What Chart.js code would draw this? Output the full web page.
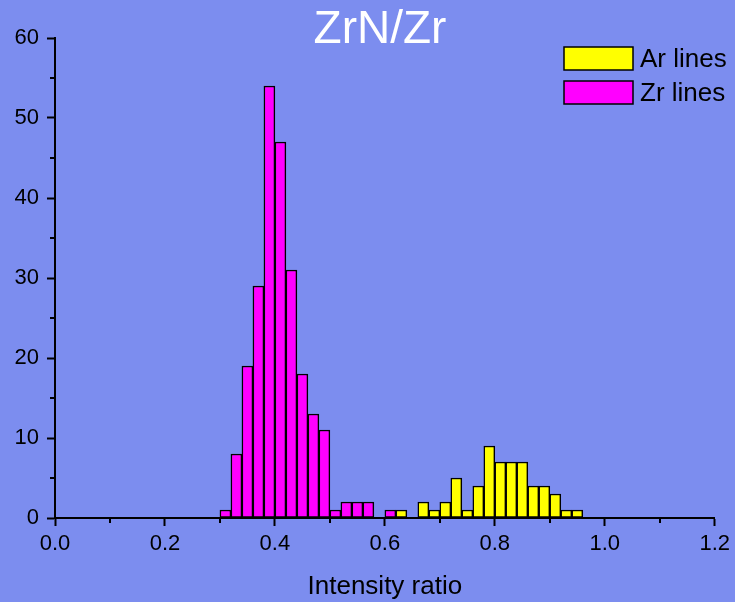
<!DOCTYPE html>
<html>
<head>
<meta charset="utf-8">
<script src="https://cdn.jsdelivr.net/npm/chart.js@4.4.1/dist/chart.umd.min.js"></script>
<style>
  html, body { margin: 0; padding: 0; background: #7c8def; }
  #wrap { width: 735px; height: 602px; position: relative; }
</style>
</head>
<body>
<div id="wrap"><canvas id="container"></canvas></div>
<script>
// bin centres (bin width 0.02) and counts
var arCenters = [0.63, 0.67, 0.69, 0.71, 0.73, 0.75, 0.77, 0.79, 0.81, 0.83, 0.85, 0.87, 0.89, 0.91, 0.93, 0.95];
var arCounts  = [1, 2, 1, 2, 5, 1, 4, 9, 7, 7, 7, 4, 4, 3, 1, 1];

var zrCenters = [0.31, 0.33, 0.35, 0.37, 0.39, 0.41, 0.43, 0.45, 0.47, 0.49, 0.51, 0.53, 0.55, 0.57, 0.61];
var zrCounts  = [1, 8, 19, 29, 54, 47, 31, 18, 13, 11, 1, 2, 2, 2, 1];

var seriesNames = ['Ar lines', 'Zr lines'];
var chartTitle = 'ZrN/Zr';
var xTitle = 'Intensity ratio';

var FONT = '"Liberation Sans", Arial, sans-serif';

function toPoints(xs, ys) {
    var pts = [];
    for (var i = 0; i < xs.length; i++) {
        pts.push({x: xs[i], y: ys[i]});
    }
    return pts;
}

// title, legend and the minor ticks are drawn by hand
var decorations = {
    id: 'decorations',
    afterDraw: function(chart) {
        var ctx = chart.ctx;
        var xs = chart.scales.x, ys = chart.scales.y;
        ctx.save();

        // minor ticks
        ctx.strokeStyle = '#000';
        ctx.lineWidth = 2;
        ctx.beginPath();
        for (var v = 5; v < 60; v += 10) {
            var py = Math.round(ys.getPixelForValue(v));
            ctx.moveTo(xs.left - 5, py);
            ctx.lineTo(xs.left, py);
        }
        for (var k = 1; k < 12; k += 2) {
            var px = Math.round(xs.getPixelForValue(k / 10));
            ctx.moveTo(px, ys.bottom);
            ctx.lineTo(px, ys.bottom + 5);
        }
        ctx.stroke();

        // title
        ctx.fillStyle = '#fff';
        ctx.font = '46px ' + FONT;
        ctx.textAlign = 'center';
        ctx.textBaseline = 'middle';
        ctx.fillText(chartTitle, 380, 30);

        // legend
        ctx.font = '26px ' + FONT;
        ctx.textAlign = 'left';
        chart.data.datasets.forEach(function(ds, i) {
            var top = 47 + i * 34;
            ctx.fillStyle = ds.backgroundColor;
            ctx.fillRect(564, top, 69, 23);
            ctx.lineWidth = 1.5;
            ctx.strokeStyle = '#000';
            ctx.strokeRect(564, top, 69, 23);
            ctx.fillStyle = '#000';
            ctx.fillText(ds.label, 640, top + 13);
        });
        ctx.restore();
    }
};

var chart = new Chart(document.getElementById('container'), {
    type: 'bar',
    data: {
        datasets: [
            {
                label: seriesNames[0],
                data: toPoints(arCenters, arCounts),
                backgroundColor: '#ffff00',
                borderColor: '#000',
                borderWidth: 1.5,
                borderSkipped: false
            },
            {
                label: seriesNames[1],
                data: toPoints(zrCenters, zrCounts),
                backgroundColor: '#ff00ff',
                borderColor: '#000',
                borderWidth: 1.5,
                borderSkipped: false
            }
        ]
    },
    options: {
        responsive: true,
        maintainAspectRatio: false,
        animation: false,
        grouped: false,
        barPercentage: 1,
        categoryPercentage: 1,
        layout: {
            padding: {top: 38, right: 19, left: 0, bottom: 0}
        },
        plugins: {
            legend: {display: false},
            title: {display: false},
            tooltip: {enabled: false}
        },
        scales: {
            x: {
                type: 'linear',
                min: 0,
                max: 1.2,
                offset: false,
                grid: {
                    offset: false,
                    drawOnChartArea: false,
                    tickLength: 8,
                    tickWidth: 2,
                    tickColor: '#000'
                },
                border: {color: '#000', width: 2},
                ticks: {
                    stepSize: 0.2,
                    color: '#000',
                    padding: 5,
                    maxRotation: 0,
                    font: {family: FONT, size: 22},
                    callback: function(v) { return v.toFixed(1); }
                },
                title: {
                    display: true,
                    text: xTitle,
                    color: '#000',
                    font: {family: FONT, size: 26},
                    padding: {top: 0, bottom: 0}
                },
                afterFit: function(scale) { scale.height = 84; }
            },
            y: {
                min: 0,
                max: 60,
                grid: {
                    drawOnChartArea: false,
                    tickLength: 8,
                    tickWidth: 2,
                    tickColor: '#000'
                },
                border: {color: '#000', width: 2},
                ticks: {
                    stepSize: 10,
                    color: '#000',
                    padding: 8,
                    font: {family: FONT, size: 22}
                },
                afterFit: function(scale) { scale.width = 55; }
            }
        }
    },
    plugins: [decorations]
});
</script>
</body>
</html>
